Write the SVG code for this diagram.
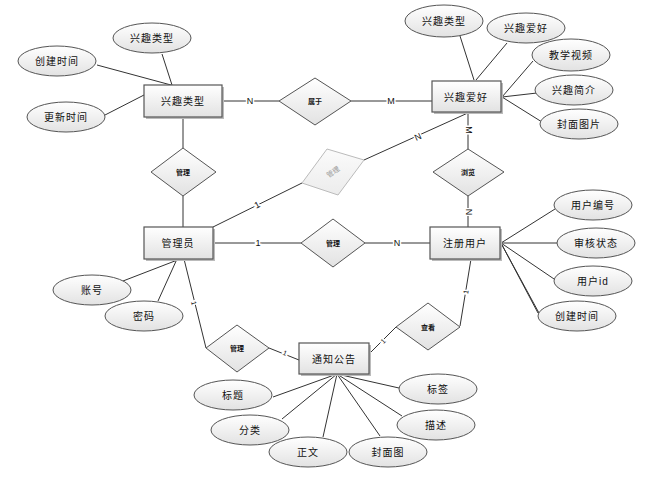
<svg xmlns="http://www.w3.org/2000/svg" width="667" height="480" viewBox="0 0 667 480">
<defs>
<linearGradient id="g" x1="0" y1="0" x2="0" y2="1">
<stop offset="0" stop-color="#ffffff"/>
<stop offset="1" stop-color="#e2e2e2"/>
</linearGradient>
<linearGradient id="gg" x1="0" y1="0" x2="0" y2="1">
<stop offset="0" stop-color="#fbfbfb"/>
<stop offset="1" stop-color="#ececec"/>
</linearGradient>
</defs>
<style>
text{font-family:"Liberation Sans","Noto Sans CJK SC",sans-serif;text-anchor:middle;dominant-baseline:central;fill:#111}
.ent rect.b{fill:url(#g);stroke:#555;stroke-width:1.2}
.ent rect.s{fill:#bbb;stroke:none}
.ent text{font-size:10px;letter-spacing:1px}
.att ellipse{fill:url(#g);stroke:#555;stroke-width:1}
.att text{font-size:10px;letter-spacing:1px}
.rel polygon{fill:url(#g);stroke:#555;stroke-width:1}
.rel text{font-size:7px;font-weight:bold}
.faint polygon{fill:url(#gg);stroke:#bbb}
.faint text{fill:#999;font-weight:normal}
#connectors line{stroke:#333;stroke-width:1}
#connectors text{font-size:9px;paint-order:stroke;stroke:#fff;stroke-width:3px;fill:#111}
</style>
<g id="connectors">
<line x1="162" y1="54" x2="172" y2="85"/>
<line x1="97" y1="65" x2="171" y2="85"/>
<line x1="105" y1="115" x2="144" y2="95"/>
<line x1="222" y1="101" x2="279" y2="101"/>
<line x1="351" y1="101" x2="432" y2="101"/>
<line x1="183" y1="117" x2="183" y2="148"/>
<line x1="183" y1="196" x2="183" y2="227"/>
<line x1="460" y1="36" x2="474" y2="80"/>
<line x1="507" y1="43" x2="476" y2="80"/>
<line x1="533" y1="61" x2="502" y2="97"/>
<line x1="537" y1="93" x2="502" y2="97"/>
<line x1="542" y1="122" x2="502" y2="97"/>
<line x1="468" y1="112" x2="468" y2="149"/>
<line x1="468" y1="196" x2="468" y2="227"/>
<line x1="364" y1="160" x2="470" y2="112"/>
<line x1="213" y1="227" x2="302" y2="183"/>
<line x1="213" y1="243" x2="301" y2="243"/>
<line x1="365" y1="243" x2="430" y2="243"/>
<line x1="501" y1="243" x2="555" y2="209"/>
<line x1="501" y1="243" x2="557" y2="243"/>
<line x1="501" y1="243" x2="557" y2="281"/>
<line x1="501" y1="243" x2="538" y2="313"/>
<line x1="502" y1="245" x2="539" y2="313"/>
<line x1="471" y1="259" x2="460" y2="326"/>
<line x1="396" y1="327" x2="369" y2="354"/>
<line x1="184" y1="259" x2="206" y2="348"/>
<line x1="269" y1="348" x2="299" y2="360"/>
<line x1="123" y1="281" x2="180" y2="259"/>
<line x1="158" y1="301" x2="177" y2="259"/>
<line x1="337" y1="374" x2="273" y2="397"/>
<line x1="337" y1="374" x2="282" y2="419"/>
<line x1="337" y1="374" x2="323" y2="437"/>
<line x1="337" y1="374" x2="380" y2="436"/>
<line x1="337" y1="374" x2="402" y2="416"/>
<line x1="337" y1="374" x2="399" y2="388"/>
<text x="250" y="101">N</text>
<text x="391" y="101" fill="#136">M</text>
<text transform="translate(469,130) rotate(90)">M</text>
<text transform="translate(469,212) rotate(90)">N</text>
<text transform="translate(418,137) rotate(-25)">N</text>
<text transform="translate(257,205) rotate(-27)">1</text>
<text x="258" y="243">1</text>
<text x="397" y="243">N</text>
<text transform="translate(466,292) rotate(-80)" style="font-size:7px">1</text>
<text transform="translate(383,341) rotate(-45)" style="font-size:7px">1</text>
<text transform="translate(194,303) rotate(76)" style="font-size:7px">1</text>
<text transform="translate(285,353) rotate(22)" style="font-size:7px">1</text>
</g>
<g id="e-interest-type" class="ent"><rect class="s" x="146" y="87" width="78" height="32"/><rect class="b" x="144" y="85" width="78" height="32"/><text x="183" y="101">兴趣类型</text></g>
<g id="e-interest" class="ent"><rect class="s" x="434" y="83" width="69" height="31"/><rect class="b" x="432" y="81" width="69" height="31"/><text x="466" y="97">兴趣爱好</text></g>
<g id="e-admin" class="ent"><rect class="s" x="146" y="229" width="69" height="32"/><rect class="b" x="144" y="227" width="69" height="32"/><text x="178" y="243">管理员</text></g>
<g id="e-user" class="ent"><rect class="s" x="432" y="229" width="70" height="32"/><rect class="b" x="430" y="227" width="70" height="32"/><text x="465" y="243">注册用户</text></g>
<g id="e-notice" class="ent"><rect class="s" x="301" y="345" width="70" height="31"/><rect class="b" x="299" y="343" width="70" height="31"/><text x="334" y="359">通知公告</text></g>
<g id="r-belong" class="rel"><polygon points="279,101 315,78 351,101 315,125"/><text x="315" y="101">属于</text></g>
<g id="r-manage-type" class="rel"><polygon points="151,172 183,148 216,172 183,196"/><text x="183" y="172">管理</text></g>
<g id="r-manage-interest" class="rel faint"><polygon points="302,183 327,149 364,160 338,195"/><text transform="translate(333,172) rotate(-35)">管理</text></g>
<g id="r-browse" class="rel"><polygon points="433,172 468,149 504,172 468,196"/><text x="468" y="172">浏览</text></g>
<g id="r-manage-user" class="rel"><polygon points="301,243 333,219 365,243 333,267"/><text x="333" y="243">管理</text></g>
<g id="r-view" class="rel"><polygon points="396,327 428,303 460,327 428,350"/><text x="428" y="327">查看</text></g>
<g id="r-manage-notice" class="rel"><polygon points="206,348 237,325 269,348 237,372"/><text x="237" y="348">管理</text></g>
<g id="a-type-name" class="att"><ellipse cx="152" cy="38" rx="39" ry="15"/><text x="152" y="38">兴趣类型</text></g>
<g id="a-type-created" class="att"><ellipse cx="57" cy="61" rx="39" ry="15"/><text x="57" y="61">创建时间</text></g>
<g id="a-type-updated" class="att"><ellipse cx="66" cy="117" rx="39" ry="15"/><text x="66" y="117">更新时间</text></g>
<g id="a-int-type" class="att"><ellipse cx="444" cy="21" rx="39" ry="16"/><text x="444" y="21">兴趣类型</text></g>
<g id="a-int-name" class="att"><ellipse cx="526" cy="28" rx="39" ry="15"/><text x="526" y="28">兴趣爱好</text></g>
<g id="a-int-video" class="att"><ellipse cx="571" cy="55" rx="39" ry="16"/><text x="571" y="55">教学视频</text></g>
<g id="a-int-intro" class="att"><ellipse cx="574" cy="90" rx="39" ry="15"/><text x="574" y="90">兴趣简介</text></g>
<g id="a-int-cover" class="att"><ellipse cx="579" cy="124" rx="39" ry="15"/><text x="579" y="124">封面图片</text></g>
<g id="a-user-no" class="att"><ellipse cx="593" cy="205" rx="39" ry="15"/><text x="593" y="205">用户编号</text></g>
<g id="a-user-status" class="att"><ellipse cx="596" cy="243" rx="39" ry="15"/><text x="596" y="243">审核状态</text></g>
<g id="a-user-id" class="att"><ellipse cx="593" cy="281" rx="39" ry="15"/><text x="593" y="281">用户id</text></g>
<g id="a-user-created" class="att"><ellipse cx="577" cy="316" rx="39" ry="15"/><text x="577" y="316">创建时间</text></g>
<g id="a-admin-account" class="att"><ellipse cx="92" cy="290" rx="39" ry="15"/><text x="92" y="290">账号</text></g>
<g id="a-admin-pwd" class="att"><ellipse cx="144" cy="316" rx="39" ry="15"/><text x="144" y="316">密码</text></g>
<g id="a-n-title" class="att"><ellipse cx="233" cy="395" rx="39" ry="15"/><text x="233" y="395">标题</text></g>
<g id="a-n-cat" class="att"><ellipse cx="250" cy="430" rx="39" ry="15"/><text x="250" y="430">分类</text></g>
<g id="a-n-body" class="att"><ellipse cx="308" cy="452" rx="39" ry="15"/><text x="308" y="452">正文</text></g>
<g id="a-n-cover" class="att"><ellipse cx="388" cy="452" rx="39" ry="15"/><text x="388" y="452">封面图</text></g>
<g id="a-n-tag" class="att"><ellipse cx="438" cy="389" rx="39" ry="15"/><text x="438" y="389">标签</text></g>
<g id="a-n-desc" class="att"><ellipse cx="436" cy="425" rx="39" ry="15"/><text x="436" y="425">描述</text></g>
</svg>
